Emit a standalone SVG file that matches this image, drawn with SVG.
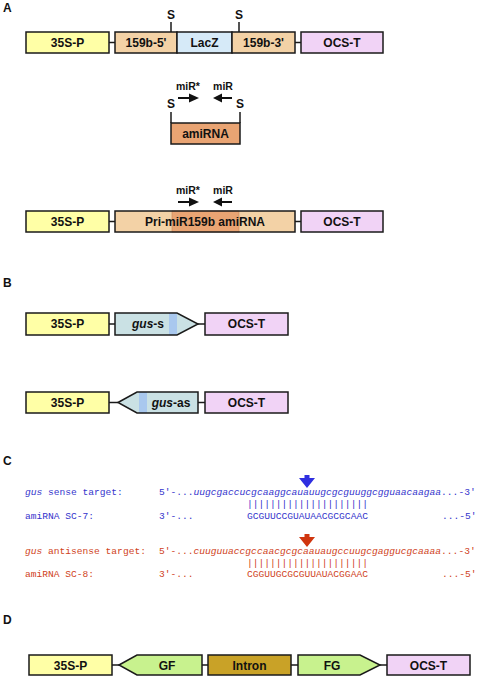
<svg xmlns="http://www.w3.org/2000/svg" width="478" height="678" viewBox="0 0 478 678">
<style>
.bx{stroke:#1a1a1a;stroke-width:1.5}
.ln{stroke:#1a1a1a;stroke-width:1.5;fill:none}
.al{stroke:#111;stroke-width:2;fill:none}
.ah{fill:#111}
.t{font-family:"Liberation Sans",Arial,sans-serif;font-weight:bold;font-size:12px;fill:#111;text-anchor:middle}
.s{font-family:"Liberation Sans",Arial,sans-serif;font-weight:bold;font-size:10.5px;fill:#111;text-anchor:middle}
.lab{font-family:"Liberation Sans",Arial,sans-serif;font-weight:bold;font-size:12px;fill:#111}
.m{font-family:"Liberation Mono","Courier New",monospace;font-size:9.6px}
.p{opacity:0.99}
.bl{fill:#3434cc}
.rd{fill:#cf3f1c}
.y{fill:#ffffa6}
.tan{fill:#f3d2a6}
.lz{fill:#d6eaf8}
.oc{fill:#f1d3f6}
.am{fill:#e9a473}
.gs{fill:#cae1e4}
.st{fill:#a9c8ee}
.gr{fill:#c8f28e}
.in{fill:#c9a227}
</style>

<!-- Panel labels -->
<text class="lab" x="3" y="12">A</text>
<text class="lab" x="3" y="287">B</text>
<text class="lab" x="3" y="465">C</text>
<text class="lab" x="3" y="624">D</text>

<!-- Connectors -->
<g id="connectors">
<line class="ln" x1="109" y1="42.5" x2="115" y2="42.5"/>
<line class="ln" x1="295" y1="42.5" x2="301" y2="42.5"/>
<line class="ln" x1="171" y1="22" x2="171" y2="32"/>
<line class="ln" x1="239" y1="22" x2="239" y2="32"/>
<line class="ln" x1="171" y1="112" x2="171" y2="123"/>
<line class="ln" x1="240" y1="112" x2="240" y2="123"/>
<line class="ln" x1="109" y1="221.5" x2="115" y2="221.5"/>
<line class="ln" x1="295" y1="221.5" x2="301" y2="221.5"/>
<line class="al" x1="178" y1="98" x2="190" y2="98"/>
<polygon class="ah" points="189,93.5 199,98 189,102.5"/>
<line class="al" x1="221" y1="98" x2="232" y2="98"/>
<polygon class="ah" points="222,93.5 213,98 222,102.5"/>
<line class="al" x1="178" y1="202" x2="190" y2="202"/>
<polygon class="ah" points="189,197.5 199,202 189,206.5"/>
<line class="al" x1="221" y1="202" x2="232" y2="202"/>
<polygon class="ah" points="222,197.5 213,202 222,206.5"/>
<line class="ln" x1="109" y1="324" x2="115" y2="324"/>
<line class="ln" x1="198" y1="324" x2="205" y2="324"/>
<line class="ln" x1="109" y1="402.5" x2="118" y2="402.5"/>
<line class="ln" x1="198" y1="402.5" x2="205" y2="402.5"/>
<line class="ln" x1="112" y1="665" x2="119" y2="665"/>
<line class="ln" x1="202" y1="665" x2="208" y2="665"/>
<line class="ln" x1="291" y1="665" x2="298" y2="665"/>
<line class="ln" x1="380" y1="665" x2="387" y2="665"/>
</g>

<!-- Panel A row 1 -->
<g id="a1-35s"><rect class="bx y" x="26" y="32" width="83" height="21"/><text class="t" x="67.5" y="47">35S-P</text></g>
<g id="a1-159b5"><rect class="bx tan" x="115" y="32" width="62" height="21"/><text class="t" x="146" y="47">159b-5'</text></g>
<g id="a1-lacz"><rect class="bx lz" x="177" y="32" width="55" height="21"/><text class="t" x="204.5" y="47">LacZ</text></g>
<g id="a1-159b3"><rect class="bx tan" x="232" y="32" width="63" height="21"/><text class="t" x="263.5" y="47">159b-3'</text></g>
<g id="a1-ocs"><rect class="bx oc" x="301" y="32" width="82" height="21"/><text class="t" x="342" y="47">OCS-T</text></g>
<g id="a1-s1"><text class="t" x="171" y="19">S</text></g>
<g id="a1-s2"><text class="t" x="239" y="19">S</text></g>

<!-- Panel A amiRNA -->
<g id="a2-labels">
<text class="s" x="188" y="90">miR*</text>
<text class="s" x="223" y="90">miR</text>
<text class="t" x="171" y="108">S</text>
<text class="t" x="240" y="108">S</text>
</g>
<g id="a2-amirna"><rect class="bx am" x="171" y="123" width="69" height="21"/><text class="t" x="205.5" y="138">amiRNA</text></g>

<!-- Panel A row 3 -->
<g id="a3-labels">
<text class="s" x="188" y="194">miR*</text>
<text class="s" x="223" y="194">miR</text>
</g>
<g id="a3-35s"><rect class="bx y" x="26" y="211" width="83" height="21"/><text class="t" x="67.5" y="226">35S-P</text></g>
<g id="a3-pri">
<rect class="tan" x="115" y="211" width="180" height="21"/>
<rect class="am" x="172" y="211" width="67" height="21" stroke="#c9855a" stroke-width="0.6"/>
<rect class="bx" x="115" y="211" width="180" height="21" fill="none"/>
<text class="t" x="205" y="226">Pri-miR159b amiRNA</text>
</g>
<g id="a3-ocs"><rect class="bx oc" x="301" y="211" width="82" height="21"/><text class="t" x="342" y="226">OCS-T</text></g>

<!-- Panel B row 1 -->
<g id="b1-35s"><rect class="bx y" x="26" y="313" width="83" height="22"/><text class="t" x="67.5" y="328">35S-P</text></g>
<g id="b1-gus">
<polygon class="gs" points="115,313 177,313 198,324 177,335 115,335"/>
<rect class="st" x="169" y="313" width="8" height="22"/>
<polygon class="bx" fill="none" points="115,313 177,313 198,324 177,335 115,335"/>
<text class="t" x="148" y="328"><tspan font-style="italic">gus</tspan>-s</text>
</g>
<g id="b1-ocs"><rect class="bx oc" x="205" y="313" width="83" height="22"/><text class="t" x="246.5" y="328">OCS-T</text></g>

<!-- Panel B row 2 -->
<g id="b2-35s"><rect class="bx y" x="26" y="392" width="83" height="21"/><text class="t" x="67.5" y="407">35S-P</text></g>
<g id="b2-gus">
<polygon class="gs" points="118,402.5 137,392 198,392 198,413 137,413"/>
<rect class="st" x="139" y="392" width="8" height="21"/>
<polygon class="bx" fill="none" points="118,402.5 137,392 198,392 198,413 137,413"/>
<text class="t" x="171" y="407"><tspan font-style="italic">gus</tspan>-as</text>
</g>
<g id="b2-ocs"><rect class="bx oc" x="205" y="392" width="83" height="21"/><text class="t" x="246.5" y="407">OCS-T</text></g>

<!-- Panel C -->
<g id="c-sense" class="m bl">
<text x="25" y="494.5"><tspan font-style="italic">gus</tspan> sense target:</text>
<text x="159" y="494.5">5'-...<tspan font-style="italic">uugcgaccucgcaaggcauauugcgcguuggcgguaacaagaa</tspan>...-3'</text>
<text class="p" x="247" y="506.5">|||||||||||||||||||||</text>
<text x="25" y="518.5">amiRNA SC-7:</text>
<text x="159" y="518.5">3'-...</text>
<text x="247" y="518.5">GCGUUCCGUAUAACGCGCAAC</text>
<text x="442" y="518.5">...-5'</text>
<path d="M304.5,475 h5 v3 h5.5 l-8,10 l-8,-10 h5.5 z" fill="#2f2fe0"/>
</g>
<g id="c-antisense" class="m rd">
<text x="25" y="553.5"><tspan font-style="italic">gus</tspan> antisense target:</text>
<text x="159" y="553.5">5'-...<tspan font-style="italic">cuuguuaccgccaacgcgcaauaugccuugcgaggucgcaaaa</tspan>...-3'</text>
<text class="p" x="247" y="565.5">|||||||||||||||||||||</text>
<text x="25" y="577">amiRNA SC-8:</text>
<text x="159" y="577">3'-...</text>
<text x="247" y="577">CGGUUGCGCGUUAUACGGAAC</text>
<text x="442" y="577">...-5'</text>
<path d="M304.5,534 h5 v3 h5.5 l-8,10 l-8,-10 h5.5 z" fill="#d0350e"/>
</g>

<!-- Panel D -->
<g id="d-35s"><rect class="bx y" x="29" y="655" width="83" height="20"/><text class="t" x="70.5" y="669.5">35S-P</text></g>
<g id="d-gf"><polygon class="bx gr" points="119,665 137,655 202,655 202,675 137,675"/><text class="t" x="167" y="669.5">GF</text></g>
<g id="d-intron"><rect class="bx in" x="208" y="655" width="83" height="20"/><text class="t" x="249.5" y="669.5">Intron</text></g>
<g id="d-fg"><polygon class="bx gr" points="298,655 360,655 380,665 360,675 298,675"/><text class="t" x="332" y="669.5">FG</text></g>
<g id="d-ocs"><rect class="bx oc" x="387" y="655" width="83" height="20"/><text class="t" x="428.5" y="669.5">OCS-T</text></g>
</svg>
